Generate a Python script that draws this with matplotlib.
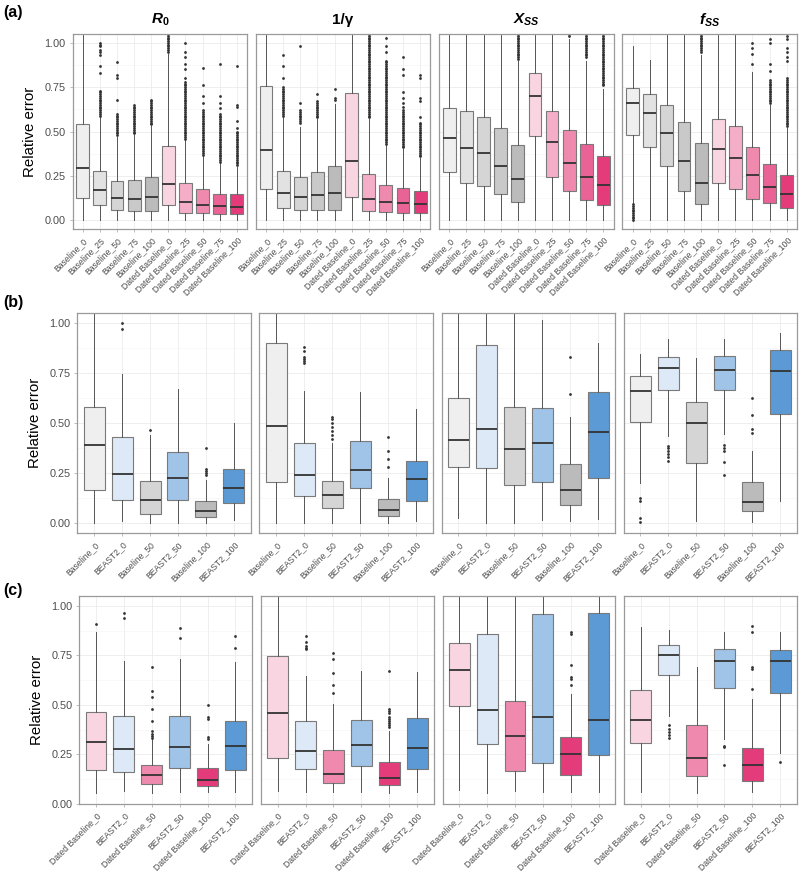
import matplotlib.pyplot as plt

plt.rcParams['font.family'] = ['Liberation Sans', 'DejaVu Sans']
plt.rcParams['mathtext.fontset'] = 'custom'
plt.rcParams['mathtext.it'] = 'Liberation Sans:italic:bold'
plt.rcParams['mathtext.rm'] = 'Liberation Sans:bold'
plt.rcParams['mathtext.bf'] = 'Liberation Sans:bold'

# ---------------- data ----------------
titles = [r'$R_0$', '1/γ', r'$X_{SS}$', r'$f_{SS}$']

a_names = ['Baseline_0', 'Baseline_25', 'Baseline_50', 'Baseline_75', 'Baseline_100',
           'Dated Baseline_0', 'Dated Baseline_25', 'Dated Baseline_50',
           'Dated Baseline_75', 'Dated Baseline_100']
b_names = ['Baseline_0', 'BEAST2_0', 'Baseline_50', 'BEAST2_50', 'Baseline_100', 'BEAST2_100']
c_names = ['Dated Baseline_0', 'BEAST2_0', 'Dated Baseline_50', 'BEAST2_50',
           'Dated Baseline_100', 'BEAST2_100']

# row (a): one list per panel (R0, 1/gamma, Xss, fss)
a_q1 = [[0.126, 0.083, 0.056, 0.049, 0.049, 0.085, 0.043, 0.038, 0.036, 0.036],
        [0.175, 0.071, 0.058, 0.055, 0.060, 0.130, 0.049, 0.047, 0.041, 0.038],
        [0.274, 0.212, 0.190, 0.145, 0.103, 0.472, 0.241, 0.164, 0.115, 0.088],
        [0.483, 0.412, 0.303, 0.165, 0.092, 0.212, 0.175, 0.120, 0.098, 0.068]]
a_med = [[0.295, 0.169, 0.124, 0.120, 0.130, 0.205, 0.105, 0.086, 0.079, 0.075],
         [0.395, 0.154, 0.133, 0.141, 0.154, 0.335, 0.122, 0.103, 0.098, 0.092],
         [0.464, 0.406, 0.376, 0.308, 0.233, 0.703, 0.440, 0.325, 0.244, 0.199],
         [0.662, 0.602, 0.492, 0.333, 0.211, 0.400, 0.350, 0.252, 0.188, 0.145]]
a_q3 = [[0.541, 0.280, 0.220, 0.226, 0.244, 0.419, 0.210, 0.173, 0.150, 0.147],
        [0.757, 0.276, 0.246, 0.269, 0.306, 0.716, 0.263, 0.201, 0.180, 0.164],
        [0.635, 0.618, 0.579, 0.521, 0.425, 0.829, 0.618, 0.509, 0.430, 0.363],
        [0.746, 0.712, 0.650, 0.551, 0.436, 0.573, 0.532, 0.415, 0.318, 0.252]]
a_lo = [[0.0] * 10,
        [0.0] * 10,
        [0.0] * 10,
        [0.095, 0.0, 0.0, 0.0, 0.0, 0.0, 0.0, 0.0, 0.0, 0.0]]
a_hi = [[1.10, 0.58, 0.47, 0.48, 0.53, 0.94, 0.45, 0.36, 0.32, 0.30],
        [1.10, 0.58, 0.526, 0.573, 0.654, 1.10, 0.573, 0.423, 0.404, 0.348],
        [1.10, 1.10, 1.10, 1.10, 0.90, 1.10, 1.10, 1.02, 0.90, 0.74],
        [0.981, 0.902, 1.10, 1.10, 0.93, 1.10, 1.10, 0.836, 0.65, 0.52]]
a_out = [
    [[],
     [0.59, 0.60, 0.61, 0.62, 0.63, 0.64, 0.65, 0.66, 0.67, 0.68, 0.69, 0.70, 0.71, 0.72, 0.73,
      0.83, 0.87, 0.93, 0.95, 0.96, 0.98, 0.99, 1.00],
     [0.48, 0.49, 0.50, 0.51, 0.52, 0.53, 0.54, 0.55, 0.56, 0.57, 0.58, 0.59, 0.60, 0.68, 0.80, 0.82, 0.89],
     [0.49, 0.50, 0.51, 0.52, 0.53, 0.54, 0.55, 0.56, 0.57, 0.58, 0.59, 0.60, 0.61, 0.62, 0.63, 0.64, 0.65],
     [0.54, 0.55, 0.56, 0.57, 0.58, 0.59, 0.60, 0.61, 0.62, 0.63, 0.64, 0.65, 0.66, 0.67, 0.68],
     [0.95, 0.96, 0.97, 0.98, 0.99, 1.00, 1.01, 1.02, 1.03, 1.04, 1.05],
     [0.46, 0.47, 0.48, 0.49, 0.50, 0.51, 0.52, 0.53, 0.54, 0.55, 0.56, 0.57, 0.58, 0.59, 0.60,
      0.61, 0.62, 0.63, 0.64, 0.65, 0.66, 0.67, 0.68, 0.69, 0.70, 0.71, 0.72, 0.73, 0.74, 0.75,
      0.76, 0.77, 0.78, 0.80, 0.85, 0.88, 0.92, 0.95, 1.00],
     [0.37, 0.38, 0.39, 0.40, 0.41, 0.42, 0.43, 0.44, 0.45, 0.46, 0.47, 0.48, 0.49, 0.50, 0.51,
      0.52, 0.53, 0.54, 0.55, 0.56, 0.57, 0.58, 0.59, 0.60, 0.61, 0.62, 0.66, 0.70, 0.76, 0.86],
     [0.33, 0.34, 0.35, 0.36, 0.37, 0.38, 0.39, 0.40, 0.41, 0.42, 0.43, 0.44, 0.45, 0.46, 0.47,
      0.48, 0.49, 0.50, 0.51, 0.52, 0.53, 0.54, 0.55, 0.56, 0.57, 0.58, 0.59, 0.60, 0.63, 0.66,
      0.70, 0.88],
     [0.31, 0.32, 0.33, 0.34, 0.35, 0.36, 0.37, 0.38, 0.39, 0.40, 0.41, 0.42, 0.43, 0.44, 0.45,
      0.46, 0.47, 0.48, 0.49, 0.50, 0.52, 0.56, 0.64, 0.65, 0.87]],
    [[],
     [0.59, 0.60, 0.61, 0.62, 0.63, 0.64, 0.65, 0.66, 0.67, 0.68, 0.69, 0.70, 0.71, 0.72, 0.73,
      0.74, 0.75, 0.80, 0.87, 0.93],
     [0.55, 0.56, 0.57, 0.58, 0.59, 0.60, 0.61, 0.62, 0.66, 0.98],
     [0.58, 0.59, 0.60, 0.61, 0.62, 0.63, 0.64, 0.65, 0.66, 0.67, 0.71],
     [0.68, 0.69, 0.74],
     [],
     [0.58, 0.59, 0.60, 0.61, 0.62, 0.63, 0.64, 0.65, 0.66, 0.67, 0.68, 0.69, 0.70, 0.71, 0.72,
      0.73, 0.74, 0.75, 0.76, 0.77, 0.78, 0.79, 0.80, 0.81, 0.82, 0.83, 0.84, 0.85, 0.86, 0.87,
      0.88, 0.89, 0.90, 0.91, 0.92, 0.93, 0.94, 0.95, 0.96, 0.97, 0.98, 0.99, 1.00, 1.01, 1.02,
      1.03, 1.04, 1.05],
     [0.43, 0.44, 0.45, 0.46, 0.47, 0.48, 0.49, 0.50, 0.51, 0.52, 0.53, 0.54, 0.55, 0.56, 0.57,
      0.58, 0.59, 0.60, 0.61, 0.62, 0.63, 0.64, 0.65, 0.66, 0.67, 0.68, 0.69, 0.70, 0.71, 0.72,
      0.73, 0.74, 0.75, 0.76, 0.77, 0.78, 0.79, 0.80, 0.81, 0.82, 0.83, 0.84, 0.85, 0.86, 0.87,
      0.88, 0.89, 0.90, 0.95, 0.98, 1.03],
     [0.41, 0.42, 0.43, 0.44, 0.45, 0.46, 0.47, 0.48, 0.49, 0.50, 0.51, 0.52, 0.53, 0.54, 0.55,
      0.56, 0.57, 0.58, 0.59, 0.60, 0.61, 0.62, 0.64, 0.66, 0.69, 0.72, 0.82, 0.85, 0.92],
     [0.36, 0.37, 0.38, 0.39, 0.40, 0.41, 0.42, 0.43, 0.44, 0.45, 0.46, 0.47, 0.48, 0.49, 0.50,
      0.51, 0.52, 0.53, 0.54, 0.55, 0.58, 0.67, 0.69, 0.80, 0.82]],
    [[], [], [], [],
     [0.91, 0.92, 0.93, 0.94, 0.95, 0.96, 0.97, 0.98, 0.99, 1.00, 1.01, 1.02, 1.03, 1.04, 1.05],
     [], [],
     [1.04, 1.05],
     [0.92, 0.93, 0.94, 0.95, 0.96, 0.97, 0.98, 0.99, 1.00, 1.01, 1.02, 1.03, 1.04, 1.05],
     [0.76, 0.77, 0.78, 0.79, 0.80, 0.81, 0.82, 0.83, 0.84, 0.85, 0.86, 0.87, 0.88, 0.89, 0.90,
      0.91, 0.92, 0.93, 0.94, 0.95, 0.96, 0.97, 0.98, 0.99, 1.00, 1.01, 1.02, 1.03, 1.04, 1.05]],
    [[0.00, 0.01, 0.02, 0.03, 0.04, 0.05, 0.06, 0.07, 0.08, 0.09],
     [], [], [],
     [0.95, 0.96, 0.97, 0.98, 0.99, 1.00, 1.01, 1.02, 1.03, 1.04, 1.05],
     [], [],
     [0.88, 0.94, 0.97, 1.00],
     [0.66, 0.67, 0.68, 0.69, 0.70, 0.71, 0.72, 0.73, 0.74, 0.75, 0.76, 0.77, 0.78, 0.79,
      0.84, 0.88, 1.00, 1.02],
     [0.53, 0.54, 0.55, 0.56, 0.57, 0.58, 0.59, 0.60, 0.61, 0.62, 0.63, 0.64, 0.65, 0.66, 0.67,
      0.68, 0.69, 0.70, 0.71, 0.72, 0.73, 0.74, 0.75, 0.76, 0.77, 0.78, 0.79, 0.80, 0.90, 0.92,
      0.95, 0.97, 1.02, 1.04]],
]

# row (b)
b_q1 = [[0.165, 0.117, 0.043, 0.115, 0.030, 0.100],
        [0.203, 0.135, 0.075, 0.173, 0.033, 0.112],
        [0.282, 0.275, 0.190, 0.205, 0.090, 0.225],
        [0.505, 0.662, 0.298, 0.663, 0.058, 0.545]]
b_med = [[0.388, 0.247, 0.117, 0.225, 0.062, 0.173],
         [0.485, 0.238, 0.142, 0.265, 0.067, 0.220],
         [0.413, 0.470, 0.368, 0.400, 0.165, 0.455],
         [0.660, 0.772, 0.498, 0.765, 0.103, 0.758]]
b_q3 = [[0.580, 0.428, 0.208, 0.353, 0.110, 0.272],
        [0.900, 0.398, 0.208, 0.408, 0.118, 0.310],
        [0.625, 0.888, 0.580, 0.572, 0.295, 0.655],
        [0.735, 0.830, 0.605, 0.833, 0.203, 0.865]]
b_lo = [[0.0, 0.012, 0.0, 0.0, 0.0, 0.017],
        [0.0, 0.0, 0.0, 0.0, 0.0, 0.012],
        [0.023, 0.0, 0.0, 0.013, 0.008, 0.022],
        [0.200, 0.433, 0.012, 0.442, 0.005, 0.110]]
b_hi = [[1.10, 0.742, 0.437, 0.670, 0.217, 0.500],
        [1.10, 0.658, 0.400, 0.655, 0.225, 0.570],
        [1.10, 1.10, 1.10, 1.013, 0.527, 0.897],
        [0.842, 0.917, 0.822, 0.917, 0.358, 0.950]]
b_out = [
    [[], [0.97, 1.00], [0.465], [], [0.24, 0.25, 0.26, 0.27, 0.375], []],
    [[], [0.80, 0.81, 0.82, 0.83, 0.86, 0.88], [0.42, 0.44, 0.46, 0.48, 0.50, 0.52, 0.53], [],
     [0.28, 0.32, 0.36, 0.43], []],
    [[], [], [], [], [0.645, 0.828], []],
    [[0.005, 0.025, 0.11, 0.125], [0.31, 0.33, 0.345, 0.36, 0.375, 0.385], [],
     [0.242, 0.305, 0.36, 0.375, 0.39], [0.447, 0.47, 0.538, 0.625], []],
]

# row (c)
c_q1 = [[0.170, 0.162, 0.103, 0.182, 0.092, 0.173],
        [0.232, 0.175, 0.107, 0.192, 0.097, 0.177],
        [0.495, 0.303, 0.167, 0.207, 0.148, 0.245],
        [0.307, 0.650, 0.142, 0.587, 0.118, 0.562]]
c_med = [[0.312, 0.277, 0.148, 0.290, 0.122, 0.295],
         [0.457, 0.268, 0.153, 0.297, 0.132, 0.283],
         [0.677, 0.477, 0.343, 0.437, 0.253, 0.425],
         [0.423, 0.750, 0.233, 0.720, 0.198, 0.723]]
c_q3 = [[0.462, 0.442, 0.195, 0.442, 0.182, 0.417],
        [0.747, 0.417, 0.272, 0.425, 0.210, 0.432],
        [0.813, 0.857, 0.522, 0.960, 0.338, 0.962],
        [0.578, 0.803, 0.400, 0.780, 0.285, 0.777]]
c_lo = [[0.057, 0.065, 0.057, 0.062, 0.062, 0.062],
        [0.068, 0.062, 0.062, 0.062, 0.058, 0.062],
        [0.070, 0.058, 0.065, 0.062, 0.062, 0.062],
        [0.062, 0.445, 0.058, 0.328, 0.062, 0.258]]
c_hi = [[0.870, 0.723, 0.328, 0.733, 0.303, 0.715],
        [1.10, 0.645, 0.503, 0.673, 0.370, 0.665],
        [1.10, 1.10, 1.10, 1.10, 0.553, 1.10],
        [0.895, 0.878, 0.692, 0.867, 0.528, 0.867]]
c_out = [
    [[0.91], [0.937, 0.965], [0.335, 0.345, 0.355, 0.37, 0.42, 0.48, 0.54, 0.57, 0.69],
     [0.84, 0.89], [0.33, 0.34, 0.43, 0.44, 0.50], [0.79, 0.85]],
    [[], [0.78, 0.79, 0.80, 0.82, 0.85], [0.56, 0.60, 0.66, 0.73, 0.76], [],
     [0.39, 0.40, 0.41, 0.42, 0.43, 0.44, 0.46, 0.47, 0.48, 0.67], []],
    [[], [], [], [], [0.60, 0.63, 0.64, 0.70, 0.86, 0.87], []],
    [[], [0.335, 0.35, 0.365, 0.38, 0.40], [], [0.198, 0.29, 0.295], [0.58, 0.68, 0.69, 0.87, 0.90], [0.21]],
]

# ---------------- style ----------------
fill = {
    'Baseline_0': '#EFEFEF', 'Baseline_25': '#E2E2E2', 'Baseline_50': '#D5D5D5',
    'Baseline_75': '#C9C9C9', 'Baseline_100': '#BBBBBB',
    'Dated Baseline_0': '#F9D5E2', 'Dated Baseline_25': '#F5AEC8', 'Dated Baseline_50': '#EF89AE',
    'Dated Baseline_75': '#EA6396', 'Dated Baseline_100': '#E43C7B',
    'BEAST2_0': '#DDE9F7', 'BEAST2_50': '#9FC4E7', 'BEAST2_100': '#5B9AD4',
}

W, H = 799, 874
fig = plt.figure(figsize=(W / 100, H / 100), dpi=100)


def px_axes(x0, y0, x1, y1):
    return fig.add_axes([x0 / W, 1 - y1 / H, (x1 - x0) / W, (y1 - y0) / H])


def draw_panel(ax, names, q1, med, q3, lo, hi, out, ylim):
    stats = []
    for i in range(len(names)):
        stats.append(dict(q1=q1[i], med=med[i], q3=q3[i], whislo=lo[i], whishi=hi[i],
                          fliers=out[i], label=names[i]))
    pos = list(range(1, len(names) + 1))
    bp = ax.bxp(stats, positions=pos, widths=0.75, patch_artist=True, showcaps=False,
                boxprops=dict(edgecolor='#7A7A7A', linewidth=0.8),
                medianprops=dict(color='#333333', linewidth=1.3, solid_capstyle='butt'),
                whiskerprops=dict(color='#555555', linewidth=0.7),
                flierprops=dict(marker='o', markersize=2.0, markerfacecolor='#333333',
                                markeredgecolor='none'))
    for patch, n in zip(bp['boxes'], names):
        patch.set_facecolor(fill[n])
    ax.set_xlim(0.4, len(names) + 0.6)
    ax.set_ylim(*ylim)
    ax.set_axisbelow(True)
    ax.set_yticks([0, 0.25, 0.5, 0.75, 1.0])
    ax.set_yticks([0.125, 0.375, 0.625, 0.875], minor=True)
    ax.grid(which='major', color='#EBEBEB', linewidth=0.6)
    ax.grid(which='minor', axis='y', color='#F4F4F4', linewidth=0.4)
    ax.tick_params(which='minor', length=0)
    ax.tick_params(which='major', length=2.5, width=0.6, color='#B3B3B3',
                   labelcolor='#4D4D4D', labelsize=7.8, pad=2.5)
    ax.set_xticks(pos)
    ax.set_xticklabels(names, rotation=45, ha='right', va='top', rotation_mode='anchor',
                       fontsize=6.2)
    for s in ax.spines.values():
        s.set_color('#9A9A9A')
        s.set_linewidth(0.9)


rows = [
    dict(tag='(a)', names=a_names, q1=a_q1, med=a_med, q3=a_q3, lo=a_lo, hi=a_hi, out=a_out,
         x0=72.5, y0=34, y1=229, ylim=(-0.05, 1.05), tagy=12),
    dict(tag='(b)', names=b_names, q1=b_q1, med=b_med, q3=b_q3, lo=b_lo, hi=b_hi, out=b_out,
         x0=77.3, y0=312.7, y1=533, ylim=(-0.05, 1.05), tagy=303),
    dict(tag='(c)', names=c_names, q1=c_q1, med=c_med, q3=c_q3, lo=c_lo, hi=c_hi, out=c_out,
         x0=79.3, y0=596, y1=804, ylim=(0, 1.05), tagy=590),
]

x_right = 797
gap = 8.7
for r, row in enumerate(rows):
    pw = (x_right - row['x0'] - 3 * gap) / 4
    for p in range(4):
        xa = row['x0'] + p * (pw + gap)
        ax = px_axes(xa, row['y0'], xa + pw, row['y1'])
        draw_panel(ax, row['names'], row['q1'][p], row['med'][p], row['q3'][p],
                   row['lo'][p], row['hi'][p], row['out'][p], row['ylim'])
        if p == 0:
            ax.set_ylabel('Relative error', fontsize=10.8, color='black', labelpad=5)
        else:
            ax.tick_params(axis='y', labelleft=False, length=0)
        if r == 0:
            fig.text((xa + pw / 2) / W, 1 - 20 / H, titles[p], ha='center', va='center',
                     fontsize=11, fontweight='bold')
    fig.text(3 / W, 1 - row['tagy'] / H, row['tag'], ha='left', va='center',
             fontsize=11.5, fontweight='bold')

fig.savefig('out.png', dpi=100)
